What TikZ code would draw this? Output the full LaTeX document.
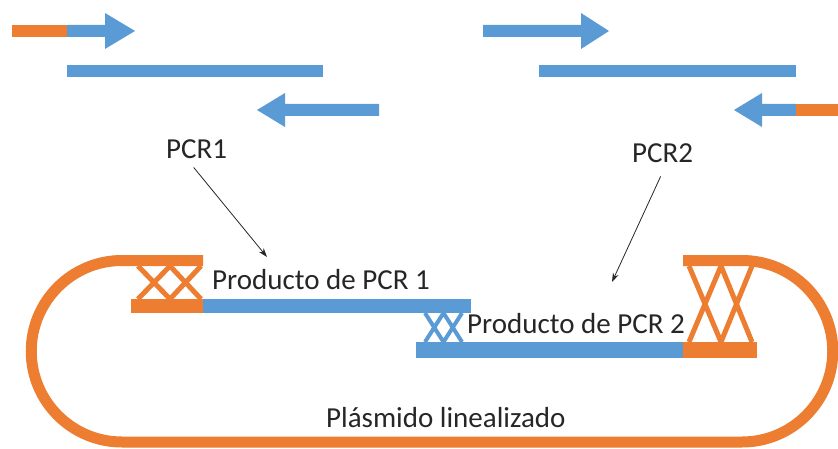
\documentclass[tikz,border=0pt]{standalone}
\usepackage{fontspec}
\setmainfont{Carlito}
\usetikzlibrary{arrows.meta}
\definecolor{dnaorange}{HTML}{ED7D31}
\definecolor{dnablue}{HTML}{5B9BD5}
\tikzset{
  lbl/.style={inner sep=0pt, anchor=base west, font=\fontsize{29}{34}\selectfont, text=black!85},
  conn/.style={draw=black!85, line width=0.8pt, -{Stealth[length=9pt,width=6pt]}},
  xline/.style={line width=5pt},
}
\begin{document}
\begin{tikzpicture}[x=1pt,y=1pt]
\useasboundingbox (0,0) rectangle (838,448);
% ---- top: PCR 1 ----
\fill[dnaorange] (12,411) rectangle (67.5,423);
\fill[dnablue] (67,423) -- (105,423) -- (105,435) -- (135,417) -- (105,399) -- (105,411) -- (67,411) -- cycle;
\fill[dnablue] (67,371) rectangle (323,383);
\fill[dnablue] (379,344) -- (285,344) -- (285,355) -- (257,338) -- (285,321) -- (285,332) -- (379,332) -- cycle;
% ---- top: PCR 2 ----
\fill[dnablue] (483,423) -- (581,423) -- (581,435) -- (609,417) -- (581,399) -- (581,411) -- (483,411) -- cycle;
\fill[dnablue] (539,371) rectangle (796,383);
\fill[dnablue] (796.5,344) -- (762,344) -- (762,355) -- (734,338) -- (762,321) -- (762,332) -- (796.5,332) -- cycle;
\fill[dnaorange] (796,332) rectangle (838,344);
% ---- labels ----
\node[lbl] (pcr1) at (166,290) {PCR1};
\node[lbl] (pcr2) at (632,285) {PCR2};
\node[lbl] (prod1) at (212,159) {Producto de PCR 1};
\node[lbl] (prod2) at (467,115) {Producto de PCR 2};
\node[lbl] (plas) at (326,21) {Plásmido linealizado};
\coordinate (t1) at (267,191);
\coordinate (t2) at (612,166);
\draw[conn] ([xshift=-3pt,yshift=-9pt]pcr1.south) -- (t1);
\draw[conn] ([xshift=-2pt,yshift=-13pt]pcr2.south) -- (t2);
% ---- plasmid loop ----
\draw[dnaorange, line width=11pt] (203,187.5) -- (122,187.5)
  arc[start angle=90, end angle=270, radius=90.75pt] -- (742,6)
  arc[start angle=-90, end angle=90, radius=90.75pt] -- (683,187.5);
% left junction
\fill[dnaorange] (131,135) rectangle (203.5,149);
\draw[dnaorange, xline] (138,182) -- (170,149) (138,149) -- (170,182)
  (170,182) -- (201,149) (170,149) -- (201,182);
% product 1 strand
\fill[dnablue] (203,135) rectangle (471,149);
% middle junction
\draw[dnablue, line width=4pt] (425,135) -- (443.5,106) (425,106) -- (443.5,135)
  (443.5,135) -- (462,106) (443.5,106) -- (462,135);
% product 2 strand
\fill[dnablue] (416,90) rectangle (683.5,106);
\fill[dnaorange] (683,90) rectangle (757,106);
% right junction
\draw[dnaorange, xline] (689,182) -- (721,106) (689,106) -- (721,182)
  (721,182) -- (752,106) (721,106) -- (752,182);
\end{tikzpicture}
\end{document}
